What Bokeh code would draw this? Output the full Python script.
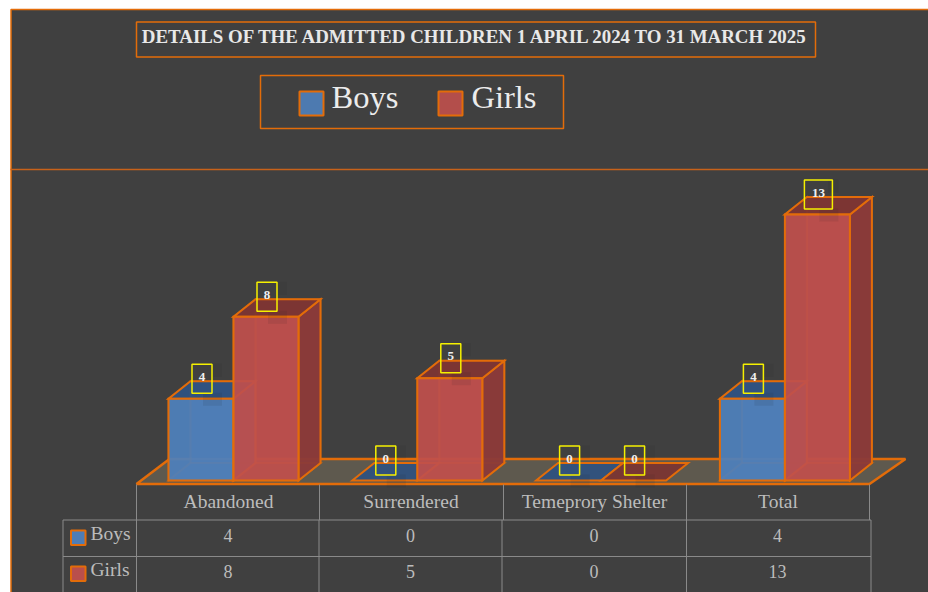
from bokeh.plotting import figure
from bokeh.models import Range1d
from bokeh.core.properties import value
from bokeh.embed import file_html
from bokeh.resources import INLINE

categories = ["Abandoned", "Surrendered", "Temeprory Shelter", "Total"]
boys = [4, 0, 0, 4]
girls = [8, 5, 0, 13]
series_names = ["Boys", "Girls"]
title_text = "DETAILS OF THE ADMITTED CHILDREN 1 APRIL 2024 TO 31 MARCH 2025"

W, H = 928, 592
PX_X = 183.8          # pixels per category
PX_Y = 20.46          # pixels per child
X0, Y0 = 233.0, 480.0 # screen position of first group centre / zero line
BG = "#404040"
OR = "#e36c09"
GRID = "#8a8a8a"
TXT = "#bcbcbc"

def sx(px):
    return (px - X0) / PX_X

def sy(py):
    return (Y0 - py) / PX_Y

p = figure(width=W, height=H, x_range=Range1d(sx(0), sx(W)), y_range=Range1d(sy(H), sy(0)),
           output_backend="svg", toolbar_location=None, min_border=0,
           x_axis_location=None, y_axis_location=None)
p.grid.visible = False
p.outline_line_color = None
p.background_fill_color = "white"
p.border_fill_color = "white"

def box(x0, y0, x1, y1, fill=None, line=OR, lw=1.5, alpha=1.0):
    p.quad(left=[sx(x0)], right=[sx(x1)], top=[sy(y0)], bottom=[sy(y1)],
           fill_color=fill, fill_alpha=alpha if fill else 0, line_color=line, line_width=lw)

def hline(x0, x1, y, color=GRID, lw=1.0):
    p.line([sx(x0), sx(x1)], [sy(y), sy(y)], line_color=color, line_width=lw)

def vline(x, y0, y1, color=GRID, lw=1.0):
    p.line([sx(x), sx(x)], [sy(y0), sy(y1)], line_color=color, line_width=lw)

def text(x, y, s, size, color=TXT, font="Liberation Serif", style="normal", align="center"):
    p.text(x=[sx(x)], y=[sy(y)], text=[s], text_color=color, text_font=value(font),
           text_font_size=f"{size}px", text_font_style=style, text_align=align, text_baseline="middle")

# panel
p.quad(left=[sx(10.5)], right=[sx(940)], top=[sy(9)], bottom=[sy(600)],
       fill_color=BG, line_color=OR, line_width=1.5)
hline(10, 930, 169, color="#c8621a", lw=1.5)

# title
box(136, 21.5, 815, 56.5)
text(475.5, 36, title_text, 18.9, color="#e8e8e8", style="bold")

# legend
box(260, 75, 563, 128)
SW = {"Boys": "#4f81bd", "Girls": "#c0504d"}
for name, swx, tx in zip(series_names, [299, 438], [331, 471]):
    box(swx, 91, swx + 24, 115, fill=SW[name], line=OR, lw=2, alpha=0.9)
    text(tx, 96.5, name, 32.5, color="#ececec", align="left")

# floor
FDX, FDY = 33.0, 25.0
fl_x = [136, 869, 869 + FDX + 3, 136 + FDX]
fl_y = [483.5, 483.5, 483.5 - FDY, 483.5 - FDY]
p.patch([sx(v) for v in fl_x], [sy(v) for v in fl_y], fill_color="#5e594e", line_color=OR, line_width=2.5)

# 3-D bars
DX = 22.0 / PX_X
DY = 17.5 / PX_Y
BW = 65.0 / PX_X
FACE = {
    "Boys": dict(front="#4f81bd", top="#2f5180", side="#3a6090", back="#4a76ad"),
    "Girls": dict(front="#c0504d", top="#7c3432", side="#8a3a38", back="#a9474a"),
}
xs, ys, fc, fa, lc, la = [], [], [], [], [], []

def face(px, py, color, alpha, lalpha=1.0):
    xs.append(px); ys.append(py); fc.append(color); fa.append(alpha); lc.append(OR); la.append(lalpha)

label_x, label_y, label_t = [], [], []
for name, vals, offs in [("Boys", boys, -1), ("Girls", girls, 0)]:
    cols = FACE[name]
    for i, v in enumerate(vals):
        l = i + offs * BW
        r = l + BW
        if v > 0:
            face([l + DX, r + DX, r + DX, l + DX], [DY, DY, v + DY, v + DY], cols["back"], 0.55, 0.35)
            face([l, l + DX, l + DX, l], [0, DY, v + DY, v], cols["back"], 0.30, 0.35)
            face([l, r, r + DX, l + DX], [0, 0, DY, DY], cols["back"], 0.45, 0.45)
            face([r, r + DX, r + DX, r], [0, DY, v + DY, v], cols["side"], 0.92)
        face([l, r, r + DX, l + DX], [v, v, v + DY, v + DY], cols["top"], 0.92)
        if v > 0:
            face([l, r, r, l], [0, 0, v, v], cols["front"], 0.90)
        label_x.append(l + BW / 2 + 1 / PX_X)
        label_y.append(v + 20.0 / PX_Y)
        label_t.append(str(v))

p.patches(xs, ys, fill_color=fc, fill_alpha=fa, line_color=lc, line_alpha=la, line_width=2, line_join="miter")

# soft shadows of the data labels
for ax0, ax1, ay0, ay1 in [(10, 20, 15, 2), (1, 20, -14, -27)]:
    p.quad(left=[x + ax0 / PX_X for x in label_x], right=[x + ax1 / PX_X for x in label_x],
           top=[y + ay0 / PX_Y for y in label_y], bottom=[y + ay1 / PX_Y for y in label_y],
           fill_color="#1e1e1e", fill_alpha=0.09, line_color=None)

# data labels
BOX_H = 29.0 / PX_Y
box_w = [(20 if len(t) == 1 else 28) / PX_X for t in label_t]
p.quad(left=[x - w / 2 for x, w in zip(label_x, box_w)], right=[x + w / 2 for x, w in zip(label_x, box_w)],
       top=[y + BOX_H / 2 for y in label_y], bottom=[y - BOX_H / 2 for y in label_y],
       fill_color=None, line_color="#f5f000", line_width=1.5)
p.text(x=label_x, y=[y + 2.0 / PX_Y for y in label_y], text=label_t, text_color="#f0f0f0",
       text_font=value("Liberation Serif"),
       text_font_size="13px", text_font_style="bold", text_align="center", text_baseline="middle")

# data table
COLS_H = [136, 319, 503, 686, 869]
COLS_R = [136, 318.5, 501.5, 686, 870.5]
ROWS = [519.5, 556]
for c in COLS_H:
    vline(c, 484, 519.5)
for c in [62.5] + COLS_R:
    vline(c, 519.5, 600)
for r in ROWS:
    hline(62.5, 870.5, r)
CENTERS = [228, 410.5, 594, 777.5]
for c, name in zip(CENTERS, categories):
    text(c, 501, name, 19.5)
for row_y, sw_y, lab_y, name, vals in [(537, 530, 533, "Boys", boys), (573, 566, 569, "Girls", girls)]:
    box(70.5, sw_y, 85, sw_y + 14.5, fill=SW[name], line=OR, lw=2, alpha=0.95)
    text(90, lab_y, name, 19.5, align="left")
    for c, v in zip(CENTERS, vals):
        text(c - 0.5, row_y - 2, str(v), 18)

open("out.html", "w").write(file_html(p, INLINE))
